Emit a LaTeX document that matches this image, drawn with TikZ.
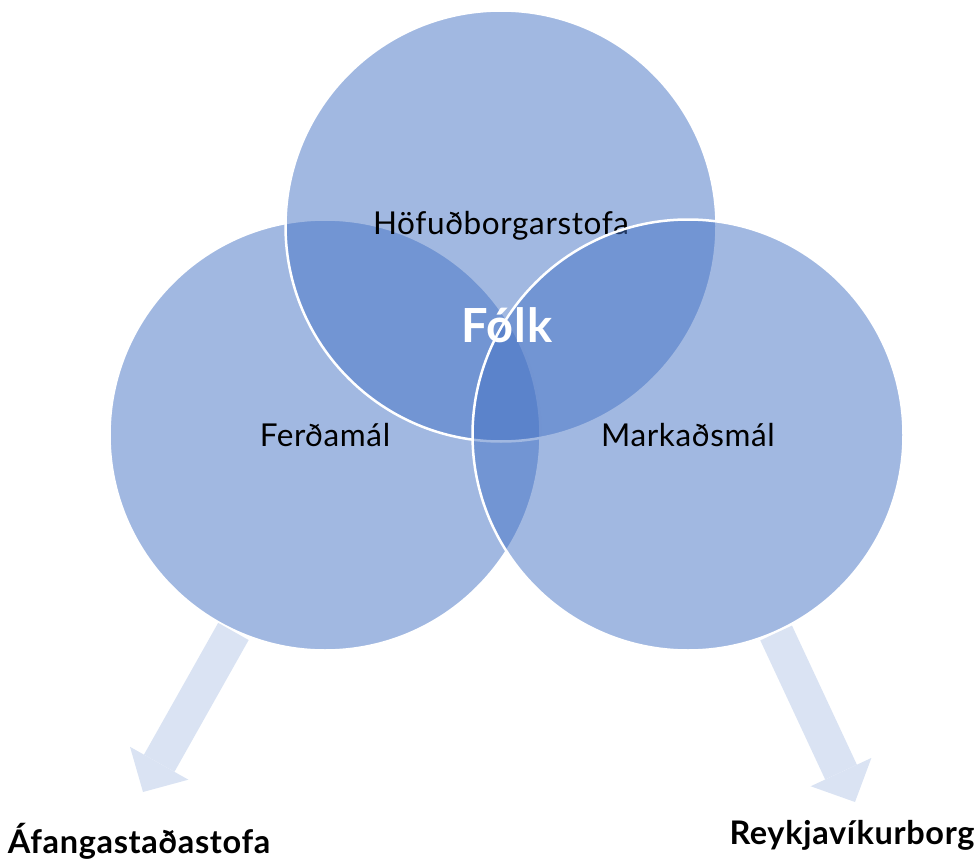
\documentclass[tikz,border=0pt]{standalone}
\usepackage{fontspec}
\setmainfont{Lato}[LetterSpace=2]
\usetikzlibrary{arrows.meta}
\definecolor{vennblue}{RGB}{68,114,196}
\definecolor{flowblue}{RGB}{218,227,243}
\tikzset{
	venn/.style={circle,minimum size=431pt,inner sep=0pt,fill=vennblue,fill opacity=.5,text opacity=1,draw=white,line width=2.5pt,font=\fontsize{31.5}{37}\selectfont},
	flow/.style={draw=flowblue,line width=35pt,-{Triangle[width=67pt,length=33pt,line width=0pt]}},
	target/.style={anchor=base,font=\bfseries\fontsize{32.5}{38}\selectfont}
}

\begin{document}
\begin{tikzpicture}[x=1pt,y=-1pt]
\useasboundingbox (0,0) rectangle (978,859);
\foreach \n/\x/\y/\t in {ferd/325/435/Ferðamál, hofud/501/226/Höfuðborgarstofa, mark/688/435/Markaðsmál}
{
	\node[venn] (\n) at (\x,\y) {\t};
}
\node[anchor=base,text=white,font=\bfseries\fontsize{47}{55}\selectfont] (folk) at (507,342) {Fólk};

\coordinate (tipA) at (143,792);
\coordinate (tipR) at (855,802);
\draw[flow] (ferd.245) -- (tipA);
\draw[flow] (mark.294.6) -- (tipR);

\node[target] (afanga) at (139,853) {Áfangastaðastofa};
\node[target] (reykja) at (852,844) {Reykjavíkurborg};
\end{tikzpicture}
\end{document}
